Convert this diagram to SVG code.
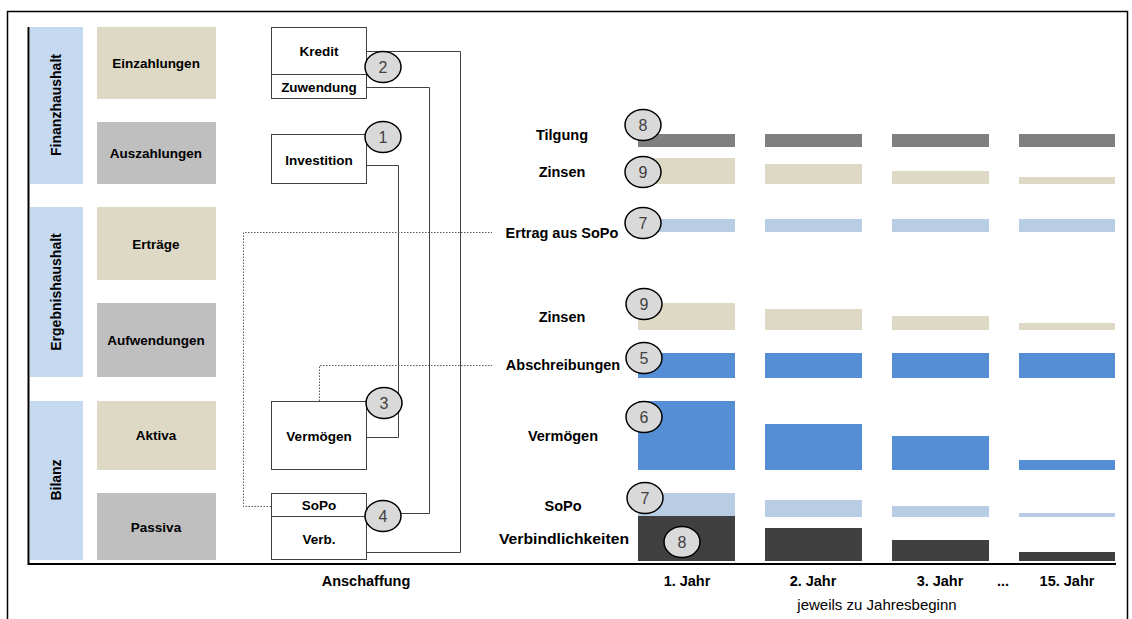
<svg xmlns="http://www.w3.org/2000/svg" width="1132" height="619" viewBox="0 0 1132 619">
<style>
text{font-family:"Liberation Sans",Arial,sans-serif;fill:#000}
.b{font-weight:bold;font-size:13.5px}
.r{font-weight:bold;font-size:14.5px}
.x{font-weight:bold;font-size:14.5px}
.s{font-weight:bold;font-size:14px}
.n{font-size:16px;fill:#404040}
.box{fill:#fff;stroke:#404040;stroke-width:1}
.be{fill:#DDD9C4}
.gr{fill:#BFBFBF}
.bl{fill:#C5D9F1}
.con{fill:none;stroke:#404040;stroke-width:1}
.dot{fill:none;stroke:#595959;stroke-width:1;stroke-dasharray:1.5 1.5}
.circ{fill:#D9D9D9;stroke:#000;stroke-width:1.5}
.t{fill:#808080}.z{fill:#DDD9C4}.e{fill:#B8CCE4}.a{fill:#558ED5}.v{fill:#404040}
</style>
<rect x="0" y="0" width="1132" height="619" fill="#fff"/>
<path d="M7.5 619 V11.5 H1127.5 V619" fill="none" stroke="#000" stroke-width="1.5"/>
<path d="M28.5 27 V564 H1116" fill="none" stroke="#000" stroke-width="2"/>

<g id="col-finanzhaushalt"><rect class="bl" x="30" y="27" width="53" height="157"/><text class="s" transform="translate(61 105) rotate(-90)" text-anchor="middle">Finanzhaushalt</text></g>
<g id="col-ergebnishaushalt"><rect class="bl" x="30" y="207" width="53" height="170"/><text class="s" transform="translate(61 292) rotate(-90)" text-anchor="middle">Ergebnishaushalt</text></g>
<g id="col-bilanz"><rect class="bl" x="30" y="401" width="53" height="159"/><text class="s" transform="translate(61 480) rotate(-90)" text-anchor="middle">Bilanz</text></g>

<g id="einzahlungen"><rect class="be" x="97" y="27" width="119" height="72"/><text class="b" x="156" y="68" text-anchor="middle">Einzahlungen</text></g>
<g id="auszahlungen"><rect class="gr" x="97" y="122" width="119" height="62"/><text class="b" x="156" y="158" text-anchor="middle">Auszahlungen</text></g>
<g id="ertraege"><rect class="be" x="97" y="207" width="119" height="73"/><text class="b" x="156" y="249" text-anchor="middle">Erträge</text></g>
<g id="aufwendungen"><rect class="gr" x="97" y="303" width="119" height="74"/><text class="b" x="156" y="345" text-anchor="middle">Aufwendungen</text></g>
<g id="aktiva"><rect class="be" x="97" y="401" width="119" height="69"/><text class="b" x="156" y="440" text-anchor="middle">Aktiva</text></g>
<g id="passiva"><rect class="gr" x="97" y="493" width="119" height="67"/><text class="b" x="156" y="532" text-anchor="middle">Passiva</text></g>

<g id="connectors">
<path class="con" d="M367 51.5 H460.5 V552.5 H367"/>
<path class="con" d="M367 87.5 H429.5 V513.5 H385"/>
<path class="con" d="M367 165.5 H398.5 V437.5 H367"/>
<path class="dot" d="M271 506.5 H243.5 V232.5 H492"/>
<path class="dot" d="M319.5 401 V365.5 H492"/>
</g>

<g id="kredit"><rect class="box" x="271.5" y="27.5" width="95" height="47"/><text class="b" x="319" y="56" text-anchor="middle">Kredit</text></g>
<g id="zuwendung"><rect class="box" x="271.5" y="74.5" width="95" height="24"/><text class="b" x="319" y="92" text-anchor="middle">Zuwendung</text></g>
<g id="investition"><rect class="box" x="271.5" y="134.5" width="95" height="49"/><text class="b" x="319" y="165" text-anchor="middle">Investition</text></g>
<g id="vermoegen"><rect class="box" x="271.5" y="401.5" width="95" height="68"/><text class="b" x="319" y="441" text-anchor="middle">Vermögen</text></g>
<g id="sopo"><rect class="box" x="271.5" y="493.5" width="95" height="23"/><text class="b" x="319" y="510" text-anchor="middle">SoPo</text></g>
<g id="verb"><rect class="box" x="271.5" y="516.5" width="95" height="43"/><text class="b" x="319" y="544" text-anchor="middle">Verb.</text></g>

<g id="bars">
<rect class="t" x="638" y="134" width="97" height="13"/><rect class="t" x="765" y="134" width="97" height="13"/><rect class="t" x="892" y="134" width="97" height="13"/><rect class="t" x="1019" y="134" width="96" height="13"/>
<rect class="z" x="638" y="158" width="97" height="26"/><rect class="z" x="765" y="164" width="97" height="20"/><rect class="z" x="892" y="171" width="97" height="13"/><rect class="z" x="1019" y="177" width="96" height="7"/>
<rect class="e" x="638" y="219" width="97" height="13"/><rect class="e" x="765" y="219" width="97" height="13"/><rect class="e" x="892" y="219" width="97" height="13"/><rect class="e" x="1019" y="219" width="96" height="13"/>
<rect class="z" x="638" y="303" width="97" height="27"/><rect class="z" x="765" y="309" width="97" height="21"/><rect class="z" x="892" y="316" width="97" height="14"/><rect class="z" x="1019" y="323" width="96" height="7"/>
<rect class="a" x="638" y="353" width="97" height="25"/><rect class="a" x="765" y="353" width="97" height="25"/><rect class="a" x="892" y="353" width="97" height="25"/><rect class="a" x="1019" y="353" width="96" height="25"/>
<rect class="a" x="638" y="401" width="97" height="69"/><rect class="a" x="765" y="424" width="97" height="46"/><rect class="a" x="892" y="436" width="97" height="34"/><rect class="a" x="1019" y="460" width="96" height="10"/>
<rect class="e" x="638" y="493" width="97" height="23"/><rect class="e" x="765" y="500" width="97" height="17"/><rect class="e" x="892" y="506" width="97" height="11"/><rect class="e" x="1019" y="513" width="96" height="4"/>
<rect class="v" x="638" y="516" width="97" height="45"/><rect class="v" x="765" y="528" width="97" height="33"/><rect class="v" x="892" y="540" width="97" height="21"/><rect class="v" x="1019" y="552" width="96" height="9"/>
</g>

<g id="labels">
<text class="r" x="562" y="140" text-anchor="middle">Tilgung</text>
<text class="r" x="562" y="177" text-anchor="middle">Zinsen</text>
<text class="r" x="562" y="238" text-anchor="middle">Ertrag aus SoPo</text>
<text class="r" x="562" y="322" text-anchor="middle">Zinsen</text>
<text class="r" x="563" y="370" text-anchor="middle">Abschreibungen</text>
<text class="r" x="563" y="441" text-anchor="middle">Vermögen</text>
<text class="r" x="563" y="511" text-anchor="middle">SoPo</text>
<text class="r" x="564" y="544" text-anchor="middle" textLength="130" lengthAdjust="spacingAndGlyphs">Verbindlichkeiten</text>
<text class="x" x="366" y="586" text-anchor="middle">Anschaffung</text>
<text class="x" x="687" y="586" text-anchor="middle">1. Jahr</text>
<text class="x" x="813" y="586" text-anchor="middle">2. Jahr</text>
<text class="x" x="940" y="586" text-anchor="middle">3. Jahr</text>
<text class="x" x="1003" y="586" text-anchor="middle">...</text>
<text class="x" x="1067" y="586" text-anchor="middle">15. Jahr</text>
<text x="877" y="610" text-anchor="middle" font-size="15" fill="#404040">jeweils zu Jahresbeginn</text>
</g>

<g id="c2"><ellipse class="circ" cx="383" cy="67" rx="18" ry="15.5"/><text class="n" x="383" y="73" text-anchor="middle">2</text></g>
<g id="c1"><ellipse class="circ" cx="383" cy="137" rx="18" ry="15.5"/><text class="n" x="383" y="143" text-anchor="middle">1</text></g>
<g id="c3"><ellipse class="circ" cx="384" cy="403" rx="18" ry="15.5"/><text class="n" x="384" y="409" text-anchor="middle">3</text></g>
<g id="c4"><ellipse class="circ" cx="383" cy="516" rx="18" ry="15.5"/><text class="n" x="383" y="522" text-anchor="middle">4</text></g>
<g id="c8a"><ellipse class="circ" cx="643" cy="125" rx="18" ry="15.5"/><text class="n" x="643" y="131" text-anchor="middle">8</text></g>
<g id="c9a"><ellipse class="circ" cx="643" cy="172" rx="18" ry="15.5"/><text class="n" x="643" y="178" text-anchor="middle">9</text></g>
<g id="c7a"><ellipse class="circ" cx="643" cy="223" rx="18" ry="15.5"/><text class="n" x="643" y="229" text-anchor="middle">7</text></g>
<g id="c9b"><ellipse class="circ" cx="644" cy="304" rx="18" ry="15.5"/><text class="n" x="644" y="310" text-anchor="middle">9</text></g>
<g id="c5"><ellipse class="circ" cx="644" cy="358" rx="18" ry="15.5"/><text class="n" x="644" y="364" text-anchor="middle">5</text></g>
<g id="c6"><ellipse class="circ" cx="644" cy="417" rx="18" ry="15.5"/><text class="n" x="644" y="423" text-anchor="middle">6</text></g>
<g id="c7b"><ellipse class="circ" cx="645" cy="498" rx="18" ry="15.5"/><text class="n" x="645" y="504" text-anchor="middle">7</text></g>
<g id="c8b"><ellipse class="circ" cx="682" cy="542" rx="18" ry="15.5"/><text class="n" x="682" y="548" text-anchor="middle">8</text></g>
</svg>
